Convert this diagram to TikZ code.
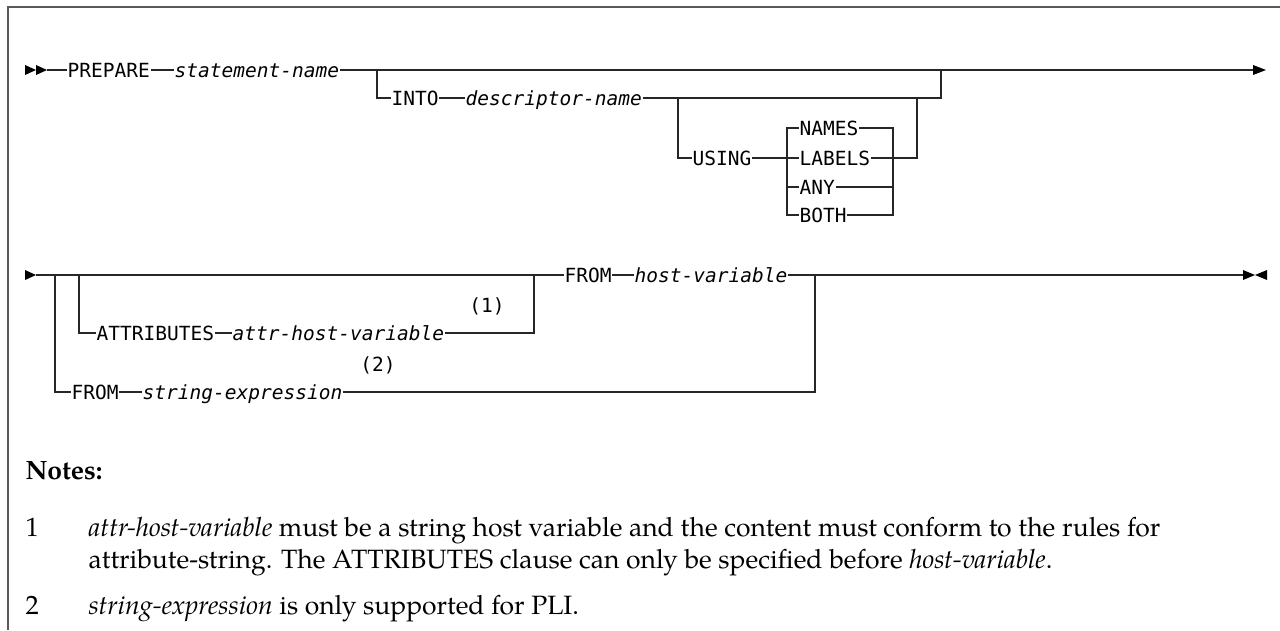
\documentclass[tikz,border=0pt]{standalone}
\usepackage{fontspec}
\setmonofont{DejaVu Sans Mono}
\newfontfamily\notefont{texgyrepagella}[Extension=.otf, UprightFont=*-regular, BoldFont=*-bold, ItalicFont=*-italic, BoldItalicFont=*-bolditalic]
\begin{document}
\begin{tikzpicture}[x=1pt,y=-1pt,line width=1.4pt,draw=black!85,
  kw/.style={font=\ttfamily\fontsize{19.5}{19.5}\selectfont, inner sep=0pt, anchor=west, text height=14.2pt, text depth=0pt},
  var/.style={kw, font=\ttfamily\itshape\fontsize{19.5}{19.5}\selectfont},
  note/.style={font=\notefont\fontsize{26.5}{32}\selectfont, inner sep=0pt, anchor=west, text height=18.5pt, text depth=0pt},
  notehead/.style={note, font=\notefont\bfseries\fontsize{26.5}{32}\selectfont},
  frameline/.style={draw=black!65, line width=2.2pt},
  tip/.style={fill=black}]
\useasboundingbox (0,0) rectangle (1280,630);
% frame
\draw[frameline] (1280,7) -- (8,7) -- (8,630);

% ---------- row 1 ----------
\coordinate (r1s) at (47,70);
\fill[tip] (25,65) -- (36,70) -- (25,75) -- cycle;
\fill[tip] (36,65) -- (47,70) -- (36,75) -- cycle;
\node[kw] (prep) at (67,70) {PREPARE};
\node[var] (stmt) at (174,70) {statement-name};
\draw (r1s) -- (prep.west);
\draw (prep.east) -- (stmt.west);
\coordinate (r1e) at (1253,70);
\draw (stmt.east) -- (r1e);
\fill[tip] (1253,65) -- (1266,70) -- (1253,75) -- cycle;

% INTO branch
\coordinate (b1) at (377,70);
\node[kw] (into) at (391,98) {INTO};
\node[var] (desc) at (465,98) {descriptor-name};
\coordinate (j1) at (941,70);
\draw (b1) |- (into.west);
\draw (into.east) -- (desc.west);
\draw (desc.east) -| (j1);

% USING branch
\coordinate (b2) at (678,98);
\node[kw] (using) at (692,158) {USING};
\coordinate (sl) at (787,158);
\draw (b2) |- (using.west);
\draw (using.east) -- (sl);
\node[kw] (names) at (799,128) {NAMES};
\node[kw] (labels) at (799,158) {LABELS};
\node[kw] (any) at (799,187) {ANY};
\node[kw] (both) at (799,215) {BOTH};
\coordinate (slt) at (787,128);
\coordinate (slb) at (787,215);
\coordinate (srt) at (893,128);
\coordinate (srb) at (893,215);
\coordinate (j2) at (917,98);
\draw (names.west) -- (slt) -- (slb) -- (both.west);
\draw (sl) -- (labels.west);
\draw (any.west) -- (any.west -| sl);
\draw (names.east) -- (srt) -- (srb) -- (both.east);
\draw (any.east) -- (any.east -| srt);
\draw (labels.east) -| (j2);

% ---------- row 2 ----------
\coordinate (r2s) at (36,275);
\fill[tip] (25,270) -- (36,275) -- (25,280) -- cycle;
\node[kw] (from1) at (564,275) {FROM};
\node[var] (hostv) at (634,275) {host-variable};
\draw (r2s) -- (from1.west);
\draw (from1.east) -- (hostv.west);
\coordinate (r2e) at (1243,275);
\draw (hostv.east) -- (r2e);
\fill[tip] (1243,270) -- (1255,275) -- (1243,280) -- cycle;
\fill[tip] (1267,270) -- (1255,275) -- (1267,280) -- cycle;

% ATTRIBUTES branch
\coordinate (b3) at (79,275);
\node[kw] (attr) at (96,333) {ATTRIBUTES};
\node[var] (ahv) at (232,333) {attr-host-variable};
\coordinate (j3) at (534,275);
\draw (b3) |- (attr.west);
\draw (attr.east) -- (ahv.west);
\draw (ahv.east) -| (j3);
\node[kw, anchor=center] (n1) at (487,305) {(1)};

% FROM string-expression branch
\coordinate (b4) at (55,275);
\node[kw] (from2) at (71,392) {FROM};
\node[var] (sexp) at (142,392) {string-expression};
\coordinate (j4) at (815,275);
\draw (b4) |- (from2.west);
\draw (from2.east) -- (sexp.west);
\draw (sexp.east) -| (j4);
\node[kw, anchor=center] (n2) at (378,364) {(2)};

% ---------- notes ----------
\node[notehead] (notes) at (25,470) {Notes:};
\node[note] (k1) at (25,527) {1};
\node[note] (t1) at (88,527) {\textit{attr-host-variable} must be a string host variable and the content must conform to the rules for};
\node[note] (t1b) at (88,559) {attribute-string. The ATTRIBUTES clause can only be specified before \textit{host-variable}.};
\node[note] (k2) at (25,605) {2};
\node[note] (t2) at (88,605) {\textit{string-expression} is only supported for PLI.};
\end{tikzpicture}
\end{document}
